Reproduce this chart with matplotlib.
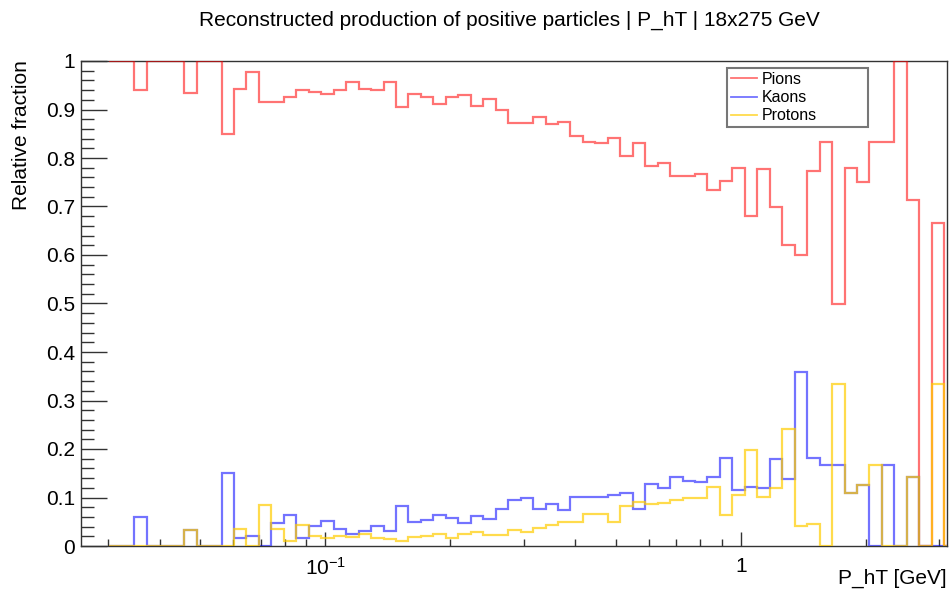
import numpy as np
import matplotlib
matplotlib.use("Agg")
import matplotlib.pyplot as plt
from matplotlib.ticker import FixedLocator, FixedFormatter, MultipleLocator, NullFormatter
from matplotlib.lines import Line2D

plt.rcParams['font.family'] = ['Liberation Sans', 'DejaVu Sans']
plt.rcParams['mathtext.fontset'] = 'custom'
plt.rcParams['mathtext.rm'] = 'Liberation Sans'
plt.rcParams['mathtext.it'] = 'Liberation Sans'

# log10 of the first bin edge, bin width in log10, number of bins
log_start = -1.52
log_width = 0.03
n_bins = 68
bin_edges = 10 ** (log_start + log_width * np.arange(n_bins + 1))

pions = [1.0, 1.0, 0.941, 1.0, 1.0, 1.0, 0.933, 1.0, 1.0, 0.85,
         0.943, 0.978, 0.915, 0.915, 0.926, 0.940, 0.936, 0.931, 0.940, 0.956,
         0.943, 0.940, 0.956, 0.906, 0.931, 0.925, 0.912, 0.925, 0.929, 0.908,
         0.921, 0.899, 0.872, 0.872, 0.885, 0.870, 0.875, 0.845, 0.833, 0.831,
         0.841, 0.805, 0.830, 0.784, 0.790, 0.762, 0.762, 0.766, 0.734, 0.753,
         0.779, 0.680, 0.777, 0.700, 0.621, 0.600, 0.773, 0.833, 0.500, 0.779,
         0.750, 0.833, 0.833, 1.0, 0.714, 0.0, 0.667, 0.0]

kaons = [0.0, 0.0, 0.059, 0.0, 0.0, 0.0, 0.033, 0.0, 0.0, 0.15,
         0.017, 0.021, 0.0, 0.047, 0.064, 0.016, 0.041, 0.052, 0.036, 0.025,
         0.030, 0.041, 0.030, 0.083, 0.050, 0.053, 0.064, 0.058, 0.047, 0.062,
         0.056, 0.076, 0.094, 0.098, 0.076, 0.086, 0.075, 0.102, 0.101, 0.101,
         0.106, 0.110, 0.076, 0.128, 0.120, 0.142, 0.135, 0.132, 0.142, 0.181,
         0.116, 0.122, 0.120, 0.180, 0.138, 0.359, 0.182, 0.166, 0.166, 0.110,
         0.125, 0.0, 0.166, 0.0, 0.143, 0.0, 0.0, 0.0]

protons = [0.0, 0.0, 0.0, 0.0, 0.0, 0.0, 0.033, 0.0, 0.0, 0.0,
           0.035, 0.0, 0.084, 0.035, 0.010, 0.043, 0.021, 0.016, 0.021, 0.018,
           0.024, 0.017, 0.014, 0.010, 0.019, 0.021, 0.024, 0.016, 0.024, 0.028,
           0.023, 0.023, 0.033, 0.028, 0.037, 0.043, 0.050, 0.050, 0.066, 0.067,
           0.050, 0.083, 0.091, 0.087, 0.089, 0.094, 0.100, 0.100, 0.122, 0.063,
           0.105, 0.197, 0.102, 0.120, 0.241, 0.041, 0.045, 0.0, 0.333, 0.110,
           0.125, 0.166, 0.0, 0.0, 0.143, 0.0, 0.333, 0.0]

series = [("Pions", pions, (1.0, 0.0, 0.0), 0.55),
          ("Kaons", kaons, (0.0, 0.0, 1.0), 0.55),
          ("Protons", protons, (1.0, 0.8, 0.0), 0.7)]

W, H = 950, 592
fig = plt.figure(figsize=(W / 100, H / 100), dpi=100)
x0, x1, ytop, ybot = 80.7, 947, 61, 546
ax = fig.add_axes([x0 / W, 1 - ybot / H, (x1 - x0) / W, (ybot - ytop) / H])

handles = []
for name, vals, col, a in series:
    ax.stairs(vals, bin_edges, baseline=None, color=col, alpha=a, lw=1.6, zorder=3)
    handles.append(Line2D([], [], color=col, alpha=a, lw=1.3))

ax.set_xscale('log')
ax.set_xlim(10 ** -1.589, 10 ** 0.4966)
ax.set_ylim(0, 1)

ax.xaxis.set_major_locator(FixedLocator([0.1, 1.0]))
ax.xaxis.set_major_formatter(FixedFormatter([r'$10^{-1}$', '1']))
minor_x = [m * 10.0 ** e for e in (-2, -1, 0) for m in range(2, 10)]
ax.xaxis.set_minor_locator(FixedLocator(minor_x))
ax.xaxis.set_minor_formatter(NullFormatter())

ax.yaxis.set_major_locator(MultipleLocator(0.1))
ax.yaxis.set_minor_locator(MultipleLocator(0.02))
ax.yaxis.set_major_formatter(plt.FuncFormatter(
    lambda v, p: '0' if abs(v) < 1e-9 else ('1' if abs(v - 1) < 1e-9 else f'{v:.1f}')))

ax.tick_params(axis='both', which='both', direction='in', colors='#333333', width=1,
               top=False, right=False, labelsize=15)
ax.tick_params(axis='y', which='major', length=18.7, pad=4)
ax.tick_params(axis='y', which='minor', length=9.4)
ax.tick_params(axis='x', which='major', length=9.9, pad=8)
ax.tick_params(axis='x', which='minor', length=4.8)
for t in ax.get_xticklabels() + ax.get_yticklabels():
    t.set_color('black')
for s in ax.spines.values():
    s.set_color('#333333')
    s.set_linewidth(1.0)
    s.set_zorder(2)

fig.text(509 / W, 1 - 20 / H, "Reconstructed production of positive particles | P_hT | 18x275 GeV",
         ha='center', va='center', fontsize=15)
fig.text(22 / W, 1 - 60 / H, "Relative fraction", rotation=90, ha='center', va='top', fontsize=15)
fig.text(947 / W, 1 - 578 / H, "P_hT [GeV]", ha='right', va='center', fontsize=15)

leg = ax.legend(handles, ["Pions", "Kaons", "Protons"], loc='upper left',
                bbox_to_anchor=(727 / W, 1 - 129 / H, 141 / W, 61 / H),
                bbox_transform=fig.transFigure, mode='expand', fontsize=11.5,
                frameon=True, fancybox=False, borderaxespad=0, borderpad=0.25,
                handlelength=1.6, handletextpad=0.35, labelspacing=0.2)
leg.get_frame().set_edgecolor('#555555')
leg.get_frame().set_linewidth(1.5)
leg.set_zorder(5)

fig.savefig("out.png", dpi=100)
